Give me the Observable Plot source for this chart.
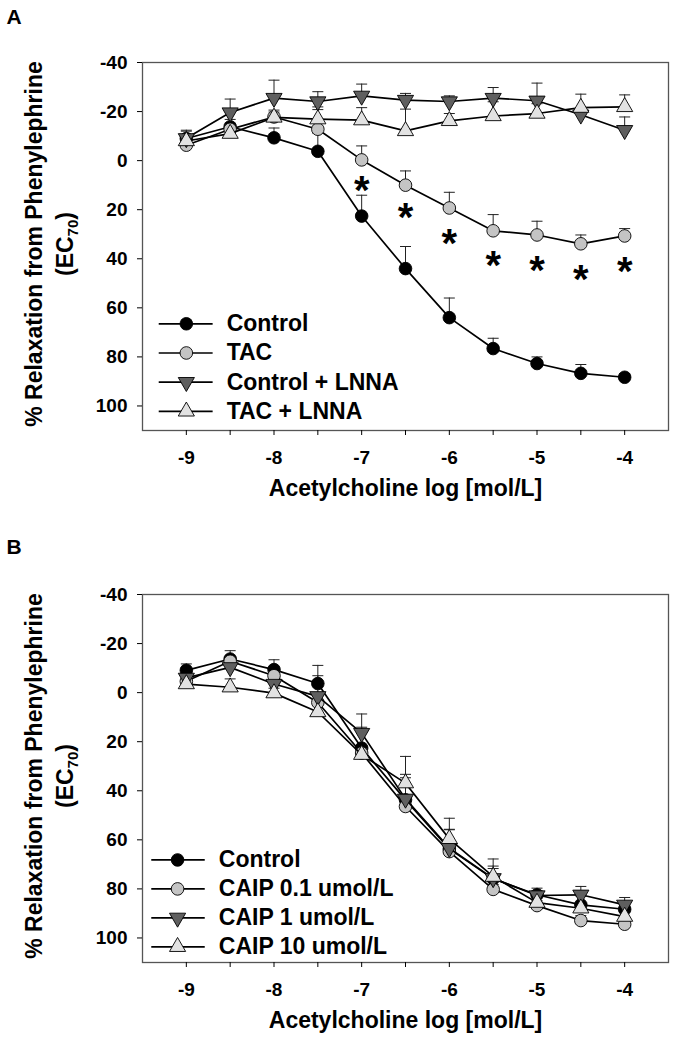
<!DOCTYPE html>
<html><head><meta charset="utf-8">
<script src="https://cdn.jsdelivr.net/npm/d3@7"></script>
<script src="https://cdn.jsdelivr.net/npm/@observablehq/plot@0.6"></script>
<style>body{margin:0;background:#fff} #chart svg{display:block}</style>
</head><body><div id="chart"></div>
<script>
// ---- data ----
const doses = [-9, -8.5, -8, -7.5, -7, -6.5, -6, -5.5, -5, -4.5, -4];
const xTickValues = [-9, -8.5, -8, -7.5, -7, -6.5, -6, -5.5, -5, -4.5, -4];
const yTickValues = [-40, -20, 0, 20, 40, 60, 80, 100];
const xTitle = "Acetylcholine log [mol/L]";
const yTitle1 = "% Relaxation from Phenylephrine";

// Panel A
const namesA = ["Control", "TAC", "Control + LNNA", "TAC + LNNA"];
const controlA = [-9, -13.8, -9.3, -3.8, 22.6, 44, 64, 76.6, 82.7, 86.7, 88.3];
const controlAErr = [3, 3, 4, 7.4, 8.5, 9, 8, 4.2, 2.7, 3.6, 1.5];
const tacA = [-6.3, -12.8, -17.8, -12.8, -0.3, 10, 19.3, 28.6, 30.3, 33.9, 30.7];
const tacAErr = [2, 2, 2, 8, 5.7, 5.8, 6.4, 6.6, 5.6, 3.6, 3];
const controlLnnaA = [-9.1, -19.6, -25.5, -24.1, -26.4, -24.7, -24.1, -25.5, -24.4, -18.7, -12.4];
const controlLnnaAErr = [3.3, 5.5, 7.3, 4, 4.8, 2.7, 2.3, 4.3, 7.2, 2, 5.4];
const tacLnnaA = [-8, -11, -17.6, -16.9, -16.5, -12.1, -16.2, -18.2, -19.2, -21.6, -21.9];
const tacLnnaAErr = [2, 2, 3, 5, 5.1, 8.9, 3, 5.8, 4, 5.5, 4.9];
const starDoses = [-7, -6.5, -6, -5.5, -5, -4.5, -4];
const starValues = [9.6, 20.5, 31.4, 40.3, 42.3, 45.7, 42.6];

// Panel B
const namesB = ["Control", "CAIP 0.1 umol/L", "CAIP 1 umol/L", "CAIP 10 umol/L"];
const controlB = [-9.1, -13.7, -9.4, -3.7, 22.6, 43.7, 63.7, 75.9, 82.4, 86.5, 88.3];
const controlBErr = [2.6, 3.4, 4, 7.4, 8.5, 9, 8, 4.2, 2.7, 3.6, 1.5];
const caip01 = [-4.6, -12.8, -6.9, 4, 24.6, 46.4, 64.8, 80.2, 86.8, 92.9, 94.4];
const caip01Err = [2, 2, 2, 3, 3, 3, 3, 2, 2, 2, 2];
const caip1 = [-6, -10.3, -3.5, 1.5, 16.5, 43.3, 63.4, 75.7, 82.7, 82.4, 86.5];
const caip1Err = [2, 2, 3, 8.4, 7.8, 10, 7.5, 5, 2, 3.4, 3];
const caip10 = [-3.5, -2.2, 0.2, 7.9, 25.3, 36.9, 59.6, 75, 85.6, 87.9, 91.3];
const caip10Err = [2, 3.4, 2, 3, 3, 10.9, 8.4, 7.2, 2, 2, 2];

// ---- styles ----
const FONT = "'Liberation Sans', Arial, Helvetica, sans-serif";
const fills = ["#000000", "#c4c4c4", "#5f5f5f", "#e2e2e2"];
const symbols = ["circle", "circle", "triangle", "triangle"];
const rotates = [0, 0, 180, 0];
const radii = [6.3, 6.3, 6, 6];

const capSymbol = {
  draw(context, size) {
    const w = Math.sqrt(size / Math.PI);
    context.moveTo(-w, 0);
    context.lineTo(w, 0);
  }
};

function makePanel({letter, names, values, errs, stars, height, marginTop, marginBottom, legend}) {
  const series = names.map((name, i) => ({
    name, i,
    rows: doses.map((x, k) => ({x, y: values[i][k], e: errs[i][k]}))
  }));
  const marks = [];
  for (const s of series) {
    marks.push(Plot.ruleX(s.rows, {x: "x", y1: "y", y2: d => d.y - d.e, stroke: "#222", strokeWidth: 1}));
    marks.push(Plot.dot(s.rows, {x: "x", y: d => d.y - d.e, symbol: capSymbol, r: 5.5, stroke: "#222", fill: "none", strokeWidth: 1}));
  }
  for (const s of series) {
    marks.push(Plot.line(s.rows, {x: "x", y: "y", stroke: "#000", strokeWidth: 1.7}));
    marks.push(Plot.dot(s.rows, {x: "x", y: "y", symbol: symbols[s.i], r: radii[s.i], fill: fills[s.i], stroke: "#000", strokeWidth: 0.9, rotate: rotates[s.i]}));
  }
  if (stars) {
    marks.push(Plot.text(stars.x.map((x, k) => ({x, y: stars.y[k]})), {x: "x", y: "y", text: () => "*", fontSize: 40, fontWeight: "bold", dy: 7, fill: "#000"}));
  }
  series.forEach(s => {
    const ly = legend.y0 + s.i * legend.step;
    marks.push(Plot.link([s.name], {x1: legend.x1, x2: legend.x2, y1: ly, y2: ly, stroke: "#000", strokeWidth: 1.7}));
    marks.push(Plot.dot([s.name], {x: legend.xm, y: ly, symbol: symbols[s.i], r: radii[s.i], fill: fills[s.i], stroke: "#000", strokeWidth: 0.9, rotate: rotates[s.i]}));
    marks.push(Plot.text([s.name], {x: legend.xt, y: ly, text: d => d, textAnchor: "start", fontSize: 23, fontWeight: "bold", fill: "#000"}));
  });
  marks.push(Plot.frame({stroke: "#555", strokeWidth: 1.3}));
  marks.push(Plot.axisY({ticks: yTickValues, tickFormat: d => String(d), tickSize: 5, tickPadding: 10, label: null, fontSize: 19}));
  marks.push(Plot.axisX({ticks: xTickValues, tickFormat: d => Number.isInteger(d) ? String(d) : "", tickSize: 5, tickPadding: 15, label: null, fontSize: 19}));
  marks.push(Plot.text([xTitle], {frameAnchor: "bottom", dy: 65, text: d => d, fontSize: 23, fontWeight: "bold", fill: "#000"}));

  const svg = Plot.plot({
    width: 677,
    height,
    marginLeft: 142,
    marginRight: 9,
    marginTop,
    marginBottom,
    x: {domain: [-9.5, -3.5], label: null},
    y: {domain: [110, -40], label: null},
    style: {fontFamily: FONT, fontWeight: "bold", fontSize: "19px", color: "#000", background: "#fff"},
    marks
  });
  const cy = marginTop + (height - marginTop - marginBottom) / 2 - 2;
  const g = d3.select(svg).append("g")
    .attr("font-family", FONT).attr("font-weight", "bold").attr("font-size", 23)
    .attr("text-anchor", "middle").attr("fill", "#000");
  g.append("text").attr("transform", `translate(42,${cy}) rotate(-90)`).text(yTitle1);
  const t2 = g.append("text").attr("transform", `translate(73,${cy}) rotate(-90)`);
  t2.append("tspan").text("(EC");
  t2.append("tspan").attr("font-size", 15).attr("dy", 5).text("70");
  t2.append("tspan").attr("dy", -5).text(")");
  d3.select(svg).append("text").attr("x", 14).attr("y", 24)
    .attr("font-family", FONT).attr("font-weight", "bold").attr("font-size", 21).attr("fill", "#000")
    .text(letter);
  return svg;
}

const chart = document.getElementById("chart");
chart.appendChild(makePanel({
  letter: "A",
  names: namesA,
  values: [controlA, tacA, controlLnnaA, tacLnnaA],
  errs: [controlAErr, tacAErr, controlLnnaAErr, tacLnnaAErr],
  stars: {x: starDoses, y: starValues},
  height: 530, marginTop: 62, marginBottom: 100,
  legend: {y0: 66.5, step: 11.9, x1: -9.315, x2: -8.70, xm: -9.0, xt: -8.54}
}));
chart.appendChild(makePanel({
  letter: "B",
  names: namesB,
  values: [controlB, caip01, caip1, caip10],
  errs: [controlBErr, caip01Err, caip1Err, caip10Err],
  stars: null,
  height: 520, marginTop: 64, marginBottom: 88,
  legend: {y0: 68.2, step: 11.8, x1: -9.40, x2: -8.79, xm: -9.10, xt: -8.63}
}));
</script></body></html>
